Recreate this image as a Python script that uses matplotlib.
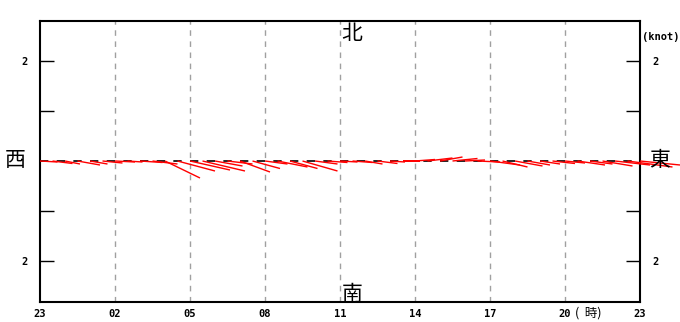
import matplotlib
matplotlib.use("Agg")
import matplotlib.pyplot as plt
import numpy as np

plt.rcParams['font.family'] = ['Noto Sans CJK JP', 'DejaVu Sans']

# hours after 23:00, current components in knots (east, north)
hours = np.arange(0, 24.5, 0.5)
u_east = [0.35, 0.40, 0.30, 0.45, 0.35, 0.40, 0.40, 0.30, 0.45, 0.50,
          0.70, 0.75, 0.80, 0.85, 0.55, 0.50, 0.60, 0.55, 0.45, 0.60,
          0.55, 0.70, 0.45, 0.40, 0.35, 0.40, 0.35, 0.40, 0.30, 0.35,
          0.40, 0.50, 0.45, 0.50, 0.40, 0.45, 0.60, 0.50, 0.55, 0.45,
          0.40, 0.45, 0.40, 0.55, 0.45, 0.60, 0.70, 0.90, 0.80]
v_north = [-0.02, -0.05, -0.06, -0.08, -0.06, -0.04, -0.02, -0.02, -0.03, -0.06,
           -0.34, -0.20, -0.18, -0.20, -0.10, -0.06, -0.22, -0.15, -0.06, -0.12,
           -0.15, -0.20, -0.06, -0.03, -0.02, -0.03, -0.06, -0.05, -0.02, 0.00,
           0.03, 0.06, 0.08, 0.05, 0.02, -0.02, -0.08, -0.12, -0.10, -0.08,
           -0.06, -0.05, -0.04, -0.08, -0.06, -0.10, -0.08, -0.12, -0.08]

xtick_pos = list(range(0, 25, 3))
xtick_labels = ['23', '02', '05', '08', '11', '14', '17', '20', '23']
ytick_pos = [-2, -1, 1, 2]
ytick_labels = ['2', '', '', '2']

fig = plt.figure(figsize=(6.8, 3.22), dpi=100)
ax = fig.add_axes([40/680, 20/322, 600/680, 281/322])
ax.set_xlim(0, 24)
ax.set_ylim(-2.82, 2.8)

for x in xtick_pos[1:-1]:
    ax.axvline(x, color='#a0a0a0', lw=1, linestyle=(0, (4, 4)), zorder=1)
ax.axhline(0, color='black', lw=1.2, linestyle=(0, (5, 5)), zorder=2)

ax.quiver(hours, np.zeros(len(hours)), u_east, v_north,
          angles='uv', scale_units='y', scale=1, units='dots', width=1.4,
          headwidth=0, headlength=0, headaxislength=0,
          color='red', zorder=3, clip_on=False)

mono = dict(family='DejaVu Sans Mono', fontweight='bold', fontsize=7.5)
ax.set_xticks(xtick_pos)
ax.set_xticklabels(xtick_labels, **mono)
ax.tick_params(axis='x', length=0, pad=5)
ax.set_yticks(ytick_pos)
ax.set_yticklabels(ytick_labels, **mono)
ax.tick_params(axis='y', direction='in', length=10, width=1, left=True,
               right=True, labelleft=True, labelright=True, pad=9)
for s in ax.spines.values():
    s.set_linewidth(1.5)

ax.text(0.52, 0.955, '北', transform=ax.transAxes, ha='center', va='center', fontsize=15)
ax.text(0.52, 0.03, '南', transform=ax.transAxes, ha='center', va='center', fontsize=15)
fig.text(15/680, 1 - 160/322, '西', ha='center', va='center', fontsize=15)
fig.text(660/680, 1 - 160/322, '東', ha='center', va='center', fontsize=15)
fig.text(661/680, 1 - 37/322, '(knot)', ha='center', va='center', **mono)
fig.text(588/680, 1 - 313/322, '(  時)', ha='center', va='center', fontsize=9)

fig.savefig('out.png', dpi=100)
